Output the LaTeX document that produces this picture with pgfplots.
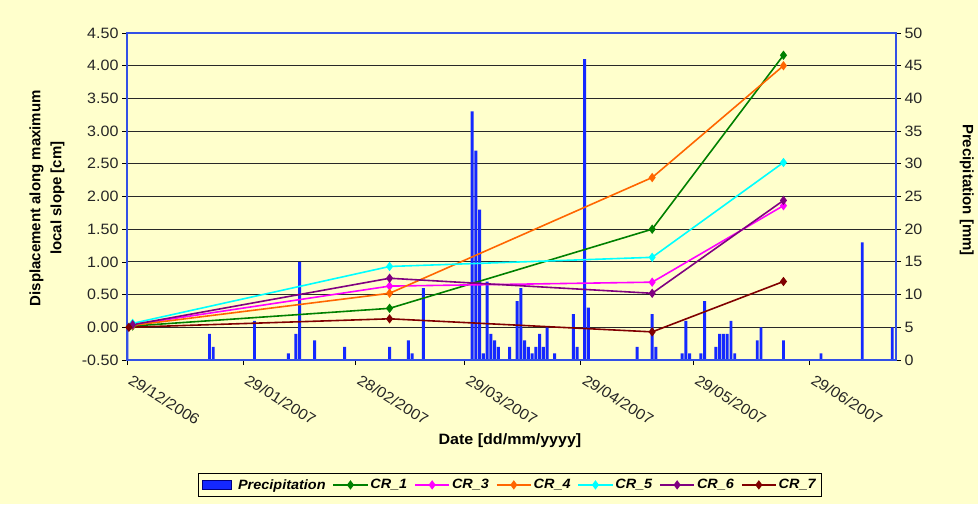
\documentclass[border=0pt]{standalone}
\usepackage{pgfplots}
\usepackage{pgfplotstable}
\pgfplotsset{compat=1.18}
\usepackage{fontspec}
\setmainfont{Liberation Sans}[FakeStretch=1.07]
\newfontfamily\vfont{Liberation Sans}
\definecolor{bg}{RGB}{255,255,204}
\definecolor{frameblue}{RGB}{50,80,230}
\definecolor{barblue}{RGB}{20,40,255}
\definecolor{cra}{RGB}{0,128,0}
\definecolor{crc}{RGB}{255,0,255}
\definecolor{crd}{RGB}{255,102,0}
\definecolor{cre}{RGB}{0,255,255}
\definecolor{crf}{RGB}{128,0,128}
\definecolor{crg}{RGB}{128,0,0}
\definecolor{gridc}{RGB}{40,40,40}

\pgfplotstableread{
day mm
0 5
22 4
23 2
34 6
43 1
45 4
46 15
50 3
58 2
70 2
75 3
76 1
79 11
92 38
93 32
94 23
95 1
96 12
97 4
98 3
99 2
102 2
104 9
105 11
106 3
107 2
108 1
109 2
110 4
111 2
112 5
114 1
119 7
120 2
122 46
123 8
136 2
140 7
141 2
148 1
149 6
150 1
153 1
154 9
157 2
158 4
159 4
160 4
161 6
162 1
168 3
169 5
175 3
185 1
196 18
204 5
}\precip

\begin{document}
\begin{tikzpicture}
\useasboundingbox (0,0) rectangle (978pt,504pt);
\fill[bg] (0,0) rectangle (978pt,504pt);
% precipitation axis (right)
\begin{axis}[
  at={(127pt,144pt)}, anchor=south west,
  scale only axis, width=769pt, height=327pt,
  xmin=0, xmax=205, ymin=0, ymax=50,
  hide x axis,
  axis y line*=right,
  ytick={0,5,10,15,20,25,30,35,40,45,50},
  ymajorgrids, grid style={gridc, line width=0.8pt},
  y axis line style={frameblue, line width=1.2pt},
  tick align=outside, major tick length=5pt,
  tick style={black, line width=0.8pt},
  tick label style={font=\fontsize{15}{18}\selectfont, text=black!85},
  /pgf/number format/assume math mode=true,
  every axis y label/.style={at={(axis description cs:1.092,0.52)}, rotate=-90, anchor=center, font=\vfont\fontsize{15}{18}\selectfont\bfseries},
  ylabel={Precipitation [mm]},
]
\addplot[ybar, bar width=2.9pt, bar shift=0pt, fill=barblue, draw=none] table[x=day, y=mm] {\precip};
\end{axis}
% displacement axis (left)
\begin{axis}[
  at={(127pt,144pt)}, anchor=south west,
  scale only axis, width=769pt, height=327pt,
  xmin=0, xmax=205, ymin=-0.5, ymax=4.5,
  ytick={-0.5,0,0.5,1,1.5,2,2.5,3,3.5,4,4.5},
  xtick={0,31,61,90,121,151,182},
  xticklabels={29/12/2006,29/01/2007,28/02/2007,29/03/2007,29/04/2007,29/05/2007,29/06/2007},
  xtick pos=bottom, ytick pos=left,
  axis line style={frameblue, line width=1.2pt},
  tick align=outside, major tick length=5pt,
  tick style={black, line width=0.8pt},
  tick label style={font=\fontsize{15}{18}\selectfont, text=black!85},
  yticklabel style={/pgf/number format/.cd, fixed, fixed zerofill, precision=2, assume math mode=true},
  xticklabel style={xshift=5pt, yshift=-4pt, rotate=-32, anchor=north west},
  every axis x label/.style={at={(axis description cs:0.498,-0.248)}, anchor=center, font=\fontsize{15}{18}\selectfont\bfseries},
  xlabel={Date [dd/mm/yyyy]},
  every axis y label/.style={at={(axis description cs:-0.104,0.495)}, rotate=90, anchor=center, align=center, font=\vfont\fontsize{15}{21}\selectfont\bfseries},
  ylabel={Displacement along maximum\\local slope [cm]},
  legend style={at={(axis description cs:0.498,-0.382)}, anchor=center, draw=black, line width=0.6pt, fill=bg,
    font=\fontsize{13.5}{16}\selectfont\bfseries\itshape, inner sep=3.5pt,
    /tikz/every even column/.append style={column sep=5pt}},
  legend columns=-1,
  legend image code/.code={\draw[mark repeat=2, mark phase=2, #1] plot coordinates {(0cm,0cm) (0.6cm,0cm) (1.2cm,0cm)};},
  every axis plot/.append style={line width=1.6pt, mark=diamond*, mark size=3.4pt},
]
\addlegendimage{legend image code/.code={\draw[fill=barblue, draw=blue!50!black, line width=0.6pt] (0cm,-0.14cm) rectangle (1.0cm,0.17cm); \path (1.15cm,0cm);}}
\addlegendentry{Precipitation}
\addplot[color=cra, mark options={fill=cra}] coordinates {(1.5,0.02) (70,0.29) (140,1.50) (175,4.16)};
\addlegendentry{CR\_1}
\addplot[color=crc, mark options={fill=crc}] coordinates {(1.5,0.04) (70,0.63) (140,0.69) (175,1.86)};
\addlegendentry{CR\_3}
\addplot[color=crd, mark options={fill=crd}] coordinates {(1.5,0.03) (70,0.52) (140,2.29) (175,4.00)};
\addlegendentry{CR\_4}
\addplot[color=cre, mark options={fill=cre}] coordinates {(1.5,0.06) (70,0.93) (140,1.07) (175,2.52)};
\addlegendentry{CR\_5}
\addplot[color=crf, mark options={fill=crf}] coordinates {(1.5,0.04) (70,0.75) (140,0.52) (175,1.94)};
\addlegendentry{CR\_6}
\addplot[color=crg, mark options={fill=crg}] coordinates {(0.5,0.00) (70,0.13) (140,-0.07) (175,0.70)};
\addlegendentry{CR\_7}
\end{axis}
\end{tikzpicture}
\end{document}
